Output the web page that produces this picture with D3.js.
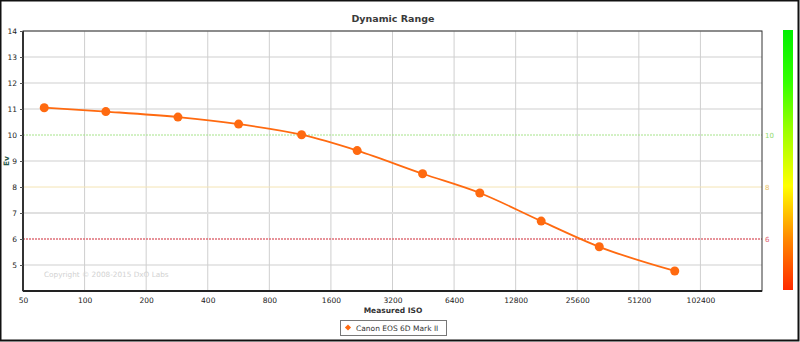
<!DOCTYPE html>
<html>
<head>
<meta charset="utf-8">
<script src="https://cdn.jsdelivr.net/npm/d3@7"></script>
<style>
  html, body { margin: 0; padding: 0; background: #fff; }
  svg { display: block; font-family: "DejaVu Sans", Verdana, sans-serif; }
</style>
</head>
<body>
<svg id="chart" width="800" height="342"></svg>
<script>
// Measured ISO for each test point and the dynamic range (Ev) found there
const isoValues = [63.5, 127, 286, 566, 1150, 2150, 4490, 8550, 17060, 32800, 76700];
const evValues = [11.05, 10.90, 10.69, 10.42, 10.01, 9.40, 8.51, 7.77, 6.69, 5.70, 4.77];
const xTickLabels = [50, 100, 200, 400, 800, 1600, 3200, 6400, 12800, 25600, 51200, 102400];
const yTickLabels = [5, 6, 7, 8, 9, 10, 11, 12, 13, 14];
const thresholdLevels = [10, 8, 6];
const thresholdColors = ["#a6e38a", "#f4e4b4", "#e0707a"];
const thresholdLabelColors = ["#8fd96a", "#e8c060", "#e06070"];
const seriesName = "Canon EOS 6D Mark II";

const svg = d3.select("#chart");
const W = 800, H = 342;
const plot = { left: 23, right: 762, top: 31, bottom: 291 };

const x = d3.scaleLog().base(2).domain([50, 204800]).range([plot.left, plot.right]);
const y = d3.scaleLinear().domain([4, 14]).range([plot.bottom, plot.top]);

// outer frame
svg.append("rect").attr("x", 0.5).attr("y", 0.5).attr("width", W - 2).attr("height", H - 2)
  .attr("fill", "#fff").attr("stroke", "#111").attr("stroke-width", 2);

// title
svg.append("text").attr("x", 393).attr("y", 22).attr("text-anchor", "middle")
  .attr("font-size", 9.5).attr("font-weight", "bold").attr("fill", "#3a3a3a")
  .text("Dynamic Range");

// grid
const g = svg.append("g");
g.selectAll("line.vgrid").data(xTickLabels.slice(1)).join("line")
  .attr("x1", d => x(d)).attr("x2", d => x(d))
  .attr("y1", plot.top).attr("y2", plot.bottom)
  .attr("stroke", "#cfcfcf").attr("stroke-width", 1);
g.selectAll("line.hgrid").data(yTickLabels.filter(v => !thresholdLevels.includes(v))).join("line")
  .attr("x1", plot.left).attr("x2", plot.right)
  .attr("y1", d => y(d)).attr("y2", d => y(d))
  .attr("stroke", d => d === 7 ? "#e0e0e0" : "#cfcfcf")
  .attr("stroke-width", d => d === 7 ? 2 : 1);

// threshold lines
thresholdLevels.forEach((v, i) => {
  g.append("line").attr("x1", plot.left).attr("x2", plot.right)
    .attr("y1", y(v)).attr("y2", y(v))
    .attr("stroke", thresholdColors[i]).attr("stroke-width", i === 2 ? 1.5 : 1)
    .attr("stroke-dasharray", i === 1 ? null : "2,1");
  svg.append("text").attr("x", plot.right + 3).attr("y", y(v) + 3)
    .attr("font-size", 7).attr("fill", thresholdLabelColors[i]).text(v);
});

// copyright
svg.append("text").attr("x", 44).attr("y", 277).attr("font-size", 7.3)
  .attr("fill", "#d2d2d2").text("Copyright \u00a9 2008-2015 DxO Labs");

// axes frame
svg.append("rect").attr("x", plot.left).attr("y", plot.top)
  .attr("width", plot.right - plot.left).attr("height", plot.bottom - plot.top)
  .attr("fill", "none").attr("stroke", "#333").attr("stroke-width", 1);
svg.append("line").attr("x1", plot.left).attr("x2", plot.left)
  .attr("y1", plot.top).attr("y2", plot.bottom).attr("stroke", "#333").attr("stroke-width", 2);
svg.append("line").attr("x1", plot.left).attr("x2", plot.right)
  .attr("y1", plot.bottom).attr("y2", plot.bottom).attr("stroke", "#222").attr("stroke-width", 2);

// y axis
const yAxis = d3.axisLeft(y).tickValues(yTickLabels).tickSize(3).tickPadding(3);
const ya = svg.append("g").attr("transform", `translate(${plot.left},0)`).call(yAxis);
ya.select(".domain").remove();
ya.selectAll("line").attr("stroke", "#555");
ya.selectAll("text").attr("font-size", 7.5).attr("fill", "#222")
  .attr("font-family", "DejaVu Sans, sans-serif");

// x axis
const xAxis = d3.axisBottom(x).tickValues(xTickLabels).tickFormat(d3.format("d")).tickSize(0).tickPadding(7);
const xa = svg.append("g").attr("transform", `translate(0,${plot.bottom})`).call(xAxis);
xa.select(".domain").remove();
xa.selectAll("text").attr("font-size", 7.5).attr("fill", "#222")
  .attr("font-family", "DejaVu Sans, sans-serif");

// axis titles
svg.append("text").attr("x", 393).attr("y", 313).attr("text-anchor", "middle")
  .attr("font-size", 7.5).attr("font-weight", "bold").attr("fill", "#333").text("Measured ISO");
svg.append("text").attr("transform", "translate(9,161) rotate(-90)").attr("text-anchor", "middle")
  .attr("font-size", 7.5).attr("font-weight", "bold").attr("fill", "#2a5a4a").text("Ev");

// color bar
const defs = svg.append("defs");
const grad = defs.append("linearGradient").attr("id", "evGrad")
  .attr("x1", 0).attr("y1", 1).attr("x2", 0).attr("y2", 0);
[[0, "#ff2a00"], [0.2, "#ff8a00"], [0.4, "#ffff00"], [0.62, "#99ff00"], [0.8, "#33ff00"], [1, "#00ee00"]]
  .forEach(([o, c]) => grad.append("stop").attr("offset", o).attr("stop-color", c));
svg.append("rect").attr("x", 783).attr("y", y(14) - 1).attr("width", 10)
  .attr("height", y(4) - y(14)).attr("fill", "url(#evGrad)");

// series line and points
const pts = isoValues.map((v, i) => [v, evValues[i]]);
svg.append("path").datum(pts)
  .attr("fill", "none").attr("stroke", "#ff6a10").attr("stroke-width", 1.8)
  .attr("d", d3.line().x(d => x(d[0])).y(d => y(d[1])).curve(d3.curveMonotoneX));
svg.selectAll("circle.pt").data(pts).join("circle")
  .attr("cx", d => x(d[0])).attr("cy", d => y(d[1])).attr("r", 4.5)
  .attr("fill", "#ff6a10");

// legend
const lg = svg.append("g");
lg.append("rect").attr("x", 340.5).attr("y", 320.5).attr("width", 106).attr("height", 15)
  .attr("fill", "#fff").attr("stroke", "#777").attr("stroke-width", 1);
lg.append("rect").attr("x", -2.2).attr("y", -2.2).attr("width", 4.4).attr("height", 4.4)
  .attr("transform", "translate(348,327.5) rotate(45)").attr("fill", "#ff6a10");
lg.append("text").attr("x", 356).attr("y", 331).attr("font-size", 7.5).attr("fill", "#333")
  .text(seriesName);
</script>
</body>
</html>
